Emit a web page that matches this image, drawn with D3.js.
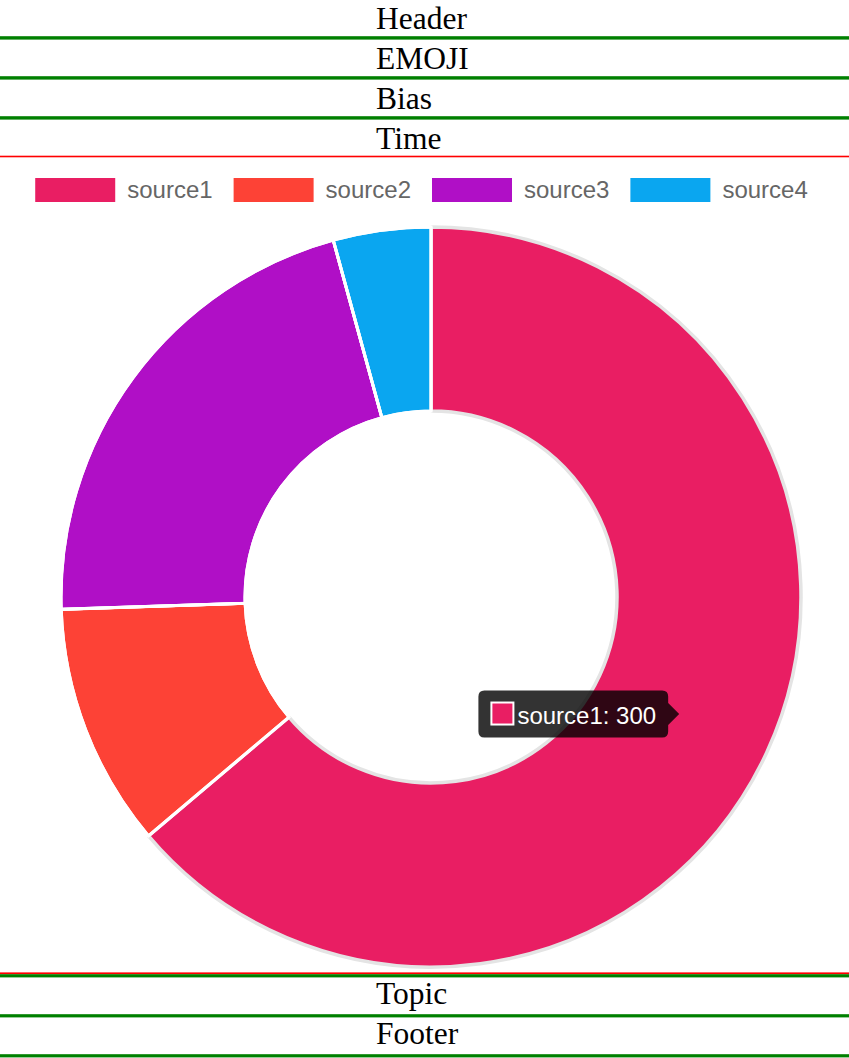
<!DOCTYPE html>
<html>
<head>
<meta charset="utf-8">
<script src="https://cdn.jsdelivr.net/npm/d3@7"></script>
<style>
  html, body { margin: 0; padding: 0; background: #fff; }
  svg { display: block; }
</style>
</head>
<body>
<svg id="page" width="849" height="1058"></svg>
<script>
// ---- data ----
const categories = ["source1", "source2", "source3", "source4"];
const values = [300, 50, 100, 20];
const colors = ["#E91E63", "#FD4236", "#B00FC6", "#0AA6F0"];
const topRows = ["Header", "EMOJI", "Bias", "Time"];
const bottomRows = ["Topic", "Footer"];
const hoveredIndex = 0;

const W = 849, H = 1058;
const svg = d3.select("#page");

// ---- row bands (text + green separators) ----
const rowFont = "'Liberation Serif', 'Times New Roman', serif";
const rowX = 376;
const rowH = 40;
topRows.forEach((t, i) => {
  const y0 = i * rowH;
  svg.append("text").attr("x", rowX).attr("y", y0 + 28.5)
    .attr("font-family", rowFont).attr("font-size", 31.5).attr("fill", "#000").text(t);
  if (i < topRows.length - 1) {
    svg.append("rect").attr("x", 0).attr("y", y0 + 36.2).attr("width", W).attr("height", 3.4).attr("fill", "#008000");
  }
});
// red line above chart
svg.append("rect").attr("x", 0).attr("y", 155.7).attr("width", W).attr("height", 1.6).attr("fill", "#FF0000");
// red + green below chart
svg.append("rect").attr("x", 0).attr("y", 972.4).attr("width", W).attr("height", 1.8).attr("fill", "#FF0000");
svg.append("rect").attr("x", 0).attr("y", 974.2).attr("width", W).attr("height", 3.2).attr("fill", "#008000");
bottomRows.forEach((t, i) => {
  const y0 = 977 + i * rowH;
  svg.append("text").attr("x", rowX).attr("y", y0 + 27.3)
    .attr("font-family", rowFont).attr("font-size", 31.5).attr("fill", "#000").text(t);
  svg.append("rect").attr("x", 0).attr("y", y0 + 37.2).attr("width", W).attr("height", 3.2).attr("fill", "#008000");
});

// ---- legend ----
const sansFont = "'Liberation Sans', Arial, Helvetica, sans-serif";
const boxW = 80, boxH = 24, gapText = 12, itemPad = 21;
const legend = svg.append("g");
const items = legend.selectAll("g").data(categories).join("g");
items.append("rect").attr("width", boxW).attr("height", boxH)
  .attr("fill", (d, i) => colors[i]);
items.append("text").attr("x", boxW + gapText).attr("y", 20)
  .attr("font-family", sansFont).attr("font-size", 24).attr("fill", "#666").text(d => d);
let widths = [];
items.each(function () { widths.push(boxW + gapText + this.querySelector("text").getComputedTextLength()); });
const totalW = d3.sum(widths) + itemPad * (widths.length - 1);
let lx = (W - totalW) / 2 - 3;
items.attr("transform", (d, i) => {
  const x = lx; lx += widths[i] + itemPad;
  return `translate(${x},178)`;
});

// ---- donut ----
const cx = 431, cy = 597, outerR = 370, innerR = 186;
const pie = d3.pie().sort(null).value(d => d)(values);
const arc = d3.arc().innerRadius(innerR).outerRadius(outerR);
const g = svg.append("g").attr("transform", `translate(${cx},${cy})`);
g.selectAll("path").data(pie).join("path")
  .attr("d", arc)
  .attr("fill", (d, i) => colors[i])
  .attr("stroke", (d, i) => i === hoveredIndex ? "#E4E4E4" : "#fff")
  .attr("stroke-width", (d, i) => i === hoveredIndex ? 3.5 : 3)
  .attr("stroke-linejoin", "bevel");
// redraw non-hovered borders on top so the white separators stay visible
g.selectAll("path.sep").data(pie.filter((d, i) => i !== hoveredIndex)).join("path")
  .attr("class", "sep")
  .attr("d", arc).attr("fill", "none").attr("stroke", "#fff").attr("stroke-width", 3);

// ---- tooltip ----
const hp = pie[hoveredIndex];
const c = arc.centroid(hp);
const tipX = cx + c[0] - 4, tipY = cy + c[1];
const caret = 11;
const label = `${categories[hoveredIndex]}: ${values[hoveredIndex]}`;
const tt = svg.append("g");
const ttText = tt.append("text").attr("font-family", sansFont).attr("font-size", 24)
  .attr("fill", "#fff").text(label);
const tw = ttText.node().getComputedTextLength();
const padX = 12, sq = 24, sqGap = 3;
const boxWt = padX + sq + sqGap + tw + padX;
const boxHt = 47;
const bx = tipX - caret - boxWt, by = tipY - boxHt / 2;
tt.insert("path", "text")
  .attr("d", () => {
    const r = 6, x0 = bx, y0 = by, x1 = bx + boxWt, y1 = by + boxHt;
    return `M${x0 + r},${y0} H${x1 - r} Q${x1},${y0} ${x1},${y0 + r}
      V${tipY - caret} L${tipX},${tipY} L${x1},${tipY + caret}
      V${y1 - r} Q${x1},${y1} ${x1 - r},${y1} H${x0 + r} Q${x0},${y1} ${x0},${y1 - r}
      V${y0 + r} Q${x0},${y0} ${x0 + r},${y0} Z`;
  })
  .attr("fill", "rgba(0,0,0,0.8)");
tt.insert("rect", "text").attr("x", bx + padX).attr("y", tipY - 12.5).attr("width", sq).attr("height", sq)
  .attr("fill", "#fff");
tt.insert("rect", "text").attr("x", bx + padX + 2).attr("y", tipY - 10.5).attr("width", sq - 4).attr("height", sq - 4)
  .attr("fill", colors[hoveredIndex]);
ttText.attr("x", bx + padX + sq + sqGap).attr("y", tipY + 10);
</script>
</body>
</html>
